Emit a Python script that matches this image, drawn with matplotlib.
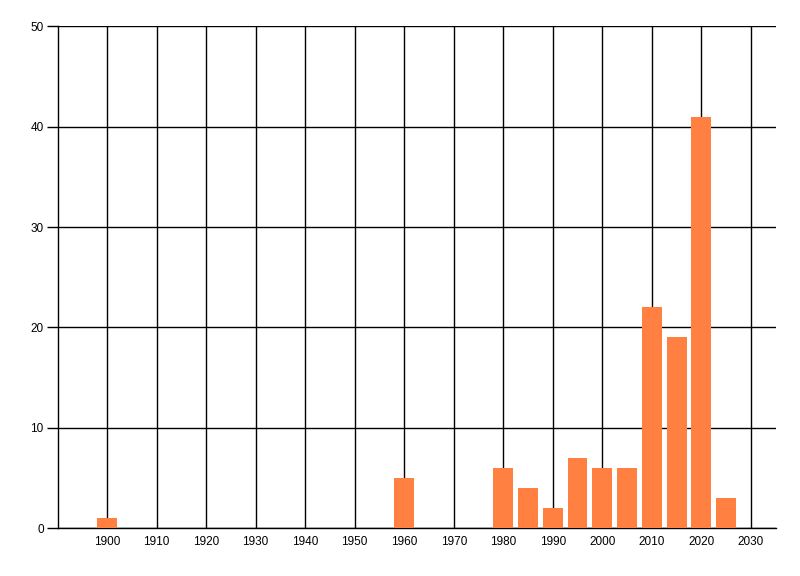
import matplotlib
matplotlib.use('Agg')
import matplotlib.pyplot as plt

years = [1900, 1960, 1980, 1985, 1990, 1995, 2000, 2005, 2010, 2015, 2020, 2025]
counts = [1, 5, 6, 4, 2, 7, 6, 6, 22, 19, 41, 3]
xticks = list(range(1900, 2031, 10))
yticks = [0, 10, 20, 30, 40, 50]

plt.rcParams['font.family'] = ['Liberation Sans', 'DejaVu Sans']
fig = plt.figure(figsize=(8, 5.76), dpi=100)
ax = fig.add_axes([0.0719, 0.0833, 0.8977, 0.8707])

ax.bar(years, counts, width=4, color='#FF8040', zorder=3)

ax.set_xlim(1890, 2035)
ax.set_ylim(0, 50)
ax.set_xticks(xticks)
ax.set_yticks(yticks)
ax.grid(True, color='black', linewidth=1, zorder=0)
ax.set_axisbelow(True)
for s in ['top', 'right']:
    ax.spines[s].set_visible(False)
ax.spines['left'].set_linewidth(1)
ax.spines['bottom'].set_linewidth(1)
ax.tick_params(axis='x', length=0, pad=6, labelsize=8.5)
ax.tick_params(axis='y', length=8, width=1, pad=2, labelsize=8.5)

fig.savefig('out.png', dpi=100)
